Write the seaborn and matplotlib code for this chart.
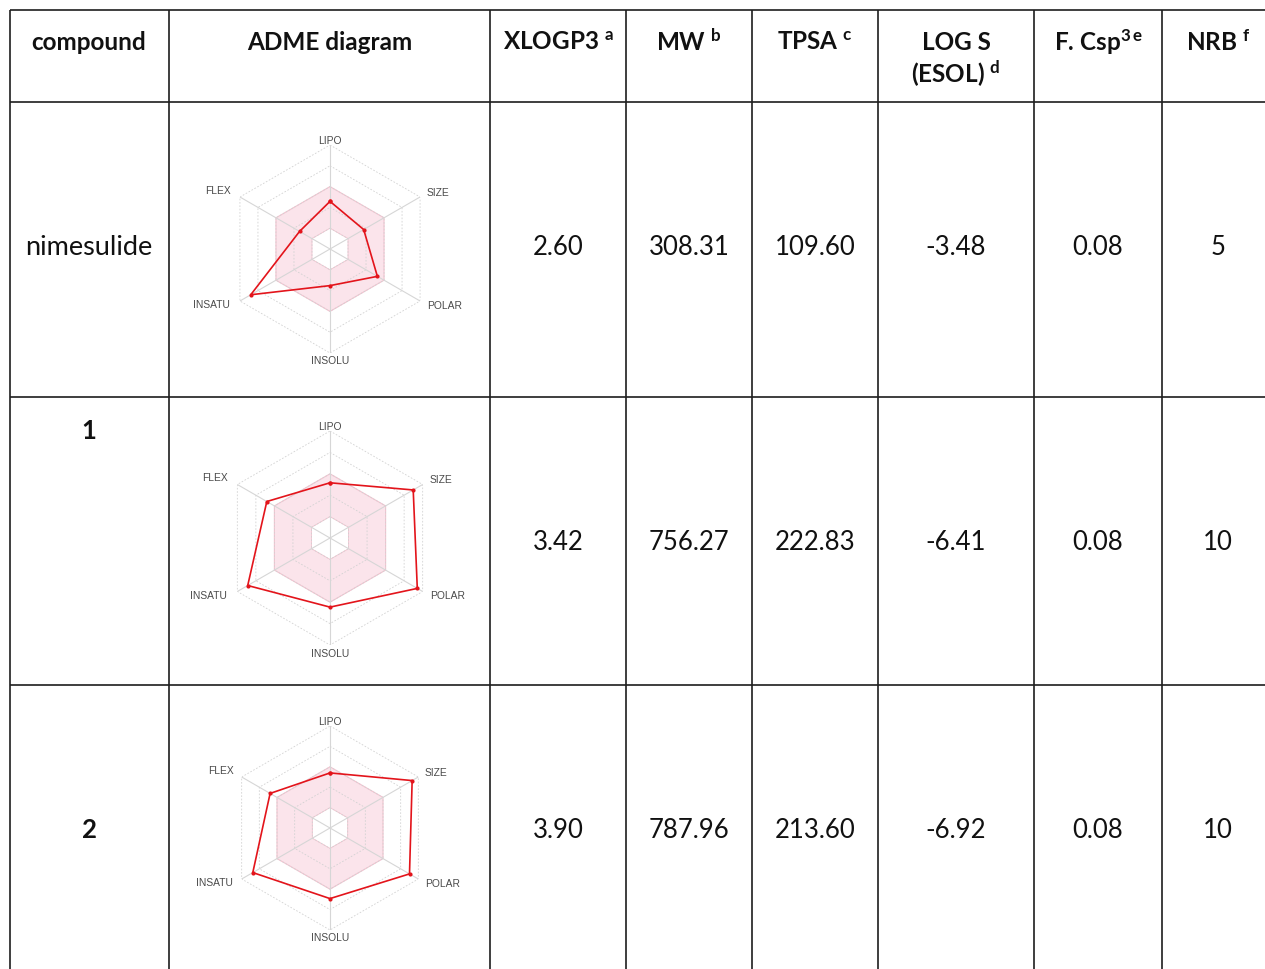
import numpy as np
import matplotlib
matplotlib.use("Agg")
import matplotlib.pyplot as plt
import seaborn as sns

# ---------------- data ----------------
compounds = ["nimesulide", "1", "2"]
xlogp3 = ["2.60", "3.42", "3.90"]
mw = ["308.31", "756.27", "787.96"]
tpsa = ["109.60", "222.83", "213.60"]
log_s = ["-3.48", "-6.41", "-6.92"]
f_csp3 = ["0.08", "0.08", "0.08"]
nrb = ["5", "10", "10"]

radar_axes = ["LIPO", "SIZE", "POLAR", "INSOLU", "INSATU", "FLEX"]
# radar values, in grid-ring units (0..5)
radar_lipo = [2.29, 2.58, 2.70]
radar_size = [1.87, 4.49, 4.65]
radar_polar = [2.63, 4.71, 4.50]
radar_insolu = [1.76, 3.23, 3.46]
radar_insatu = [4.40, 4.44, 4.37]
radar_flex = [1.69, 3.41, 3.39]
optimal_low = 1.0
optimal_high = 3.0
ring_levels = [1, 2, 3, 4, 5]

headers = ["compound", "ADME diagram", r"XLOGP3 $^{\mathrm{a}}$", r"MW $^{\mathrm{b}}$",
           r"TPSA $^{\mathrm{c}}$", "LOG S", r"F. Csp$^{3\,\mathrm{e}}$", r"NRB $^{\mathrm{f}}$"]
header2 = r"(ESOL) $^{\mathrm{d}}$"

# ---------------- style ----------------
sns.set_theme(style="white")
plt.rcParams["font.family"] = ["Lato", "DejaVu Sans"]
plt.rcParams["mathtext.fontset"] = "custom"
plt.rcParams["mathtext.rm"] = "Lato:bold"
plt.rcParams["mathtext.it"] = "Lato:bold"
plt.rcParams["mathtext.bf"] = "Lato:bold"

W, H = 1265, 969
fig = plt.figure(figsize=(W / 100, H / 100), dpi=100)
ax = fig.add_axes([0, 0, 1, 1])
ax.set_xlim(0, W)
ax.set_ylim(H, 0)
ax.axis("off")

# table grid (layout)
col_edges = [10, 169, 490, 626, 752, 878, 1034, 1162]
row_edges = [10, 102, 397, 685]
line_col = "#1e1e1e"
for y in row_edges:
    ax.plot([10, W + 5], [y, y], color=line_col, lw=1.2, solid_capstyle="butt")
for x in col_edges:
    ax.plot([x, x], [10, H + 5], color=line_col, lw=1.2, solid_capstyle="butt")

col_centers = [89, 330, 558, 689, 815, 956, 1098, 1218]
hdr_size = 17.5
for cx, h in zip(col_centers, headers):
    ax.text(cx, 42, h, ha="center", va="center", fontsize=hdr_size, fontweight="bold", color="#111")
ax.text(col_centers[5], 74, header2, ha="center", va="center", fontsize=hdr_size,
        fontweight="bold", color="#111")

row_centers = [247, 543, 830]
name_y = [247, 431, 830]
val_size = 18.5
for i in range(3):
    bold = compounds[i] != "nimesulide"
    ax.text(col_centers[0], name_y[i], compounds[i], ha="center", va="center",
            fontsize=19.5 if not bold else val_size, fontweight="bold" if bold else "normal",
            color="#111")
    for cx, arr in zip(col_centers[2:], [xlogp3, mw, tpsa, log_s, f_csp3, nrb]):
        ax.text(cx, row_centers[i], arr[i], ha="center", va="center", fontsize=val_size, color="#111")

# ---------------- radar charts ----------------
radar_centers = [(330, 249), (330, 538), (330, 828)]
radar_radius = [104, 107, 102]
label_r = [5.2, 5.85, 6.15, 5.4, 6.3, 6.05]
label_ang = np.deg2rad([0, 62.5, 116.3, 180, 244.5, 297.5])
theta = np.arange(6) * np.pi / 3
theta_c = np.append(theta, theta[0])
red = "#e3141b"

for i, ((cx, cy), rad) in enumerate(zip(radar_centers, radar_radius)):
    rect = [(cx - rad) / W, (H - cy - rad) / H, 2 * rad / W, 2 * rad / H]
    pax = fig.add_axes(rect, projection="polar")
    pax.set_theta_offset(np.pi / 2)
    pax.set_theta_direction(-1)
    pax.patch.set_alpha(0)
    pax.grid(False)
    pax.spines["polar"].set_visible(False)

    # optimal region
    pax.fill(theta_c, [optimal_high] * 7, facecolor="#fbe4eb", edgecolor="#f4c3d0", lw=0.8, zorder=1)
    pax.fill(theta_c, [optimal_low] * 7, facecolor="white", edgecolor="#f4c3d0", lw=0.6, zorder=1)
    # rings
    for lv in ring_levels:
        pax.plot(theta_c, [lv] * 7, color="#d2d2d2", lw=0.6, ls=(0, (2, 2)), zorder=2)
    # spokes
    for t in theta:
        pax.plot([t, t], [0, ring_levels[-1]], color="#d6d6d6", lw=0.8, zorder=2)

    vals = [radar_lipo[i], radar_size[i], radar_polar[i], radar_insolu[i], radar_insatu[i], radar_flex[i]]
    vals_c = vals + [vals[0]]
    sns.lineplot(x=theta_c, y=vals_c, sort=False, estimator=None, ax=pax, color=red,
                 lw=1.2, marker="o", markersize=3, markeredgewidth=0, zorder=4)

    for t, lab, lr in zip(label_ang, radar_axes, label_r):
        pax.text(t, lr, lab, ha="center", va="center", fontsize=7.4, color="#4a4a4a",
                 family=["Liberation Sans", "DejaVu Sans"], clip_on=False)

    pax.set_ylim(0, 5)
    pax.set_xticks([])
    pax.set_yticks([])
    pax.set_xlabel("")
    pax.set_ylabel("")

fig.savefig("out.png", dpi=100)
